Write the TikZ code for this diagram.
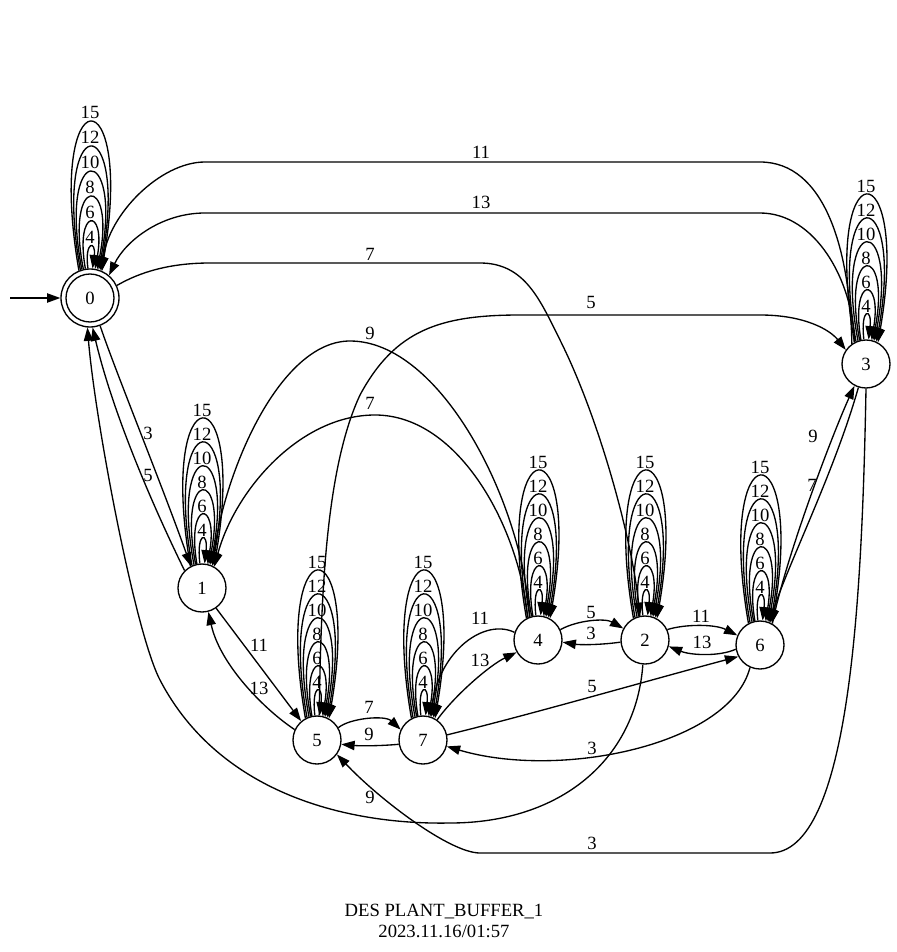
\documentclass[tikz,border=0pt]{standalone}
\usepackage{fontspec}
\setmainfont{Liberation Serif}
\usetikzlibrary{arrows.meta,calc}
\tikzset{
 st/.style={circle,draw,line width=1pt,minimum size=36pt,inner sep=0pt,font=\fontsize{14pt}{16pt}\selectfont},
 edge/.style={line width=1pt,-{Triangle[length=10pt,width=7pt]}},
 lbl/.style={inner sep=0pt,font=\fontsize{14pt}{16pt}\selectfont},
}
\newcommand\loopset[4]{%
  \foreach \la/\lw/\lh/\lt in {2.5/3/48/4,5/7/72/6,6.6/10.5/96/8,8.2/13.5/120/10,9.8/16/144/12,11.3/18.5/168/15}{
    \pgfmathsetmacro\lang{asin(\la/#2)}
    \pgfmathsetmacro\lyz{sqrt(#2*#2-\la*\la)}
    \pgfmathsetmacro\lH{\lh*#3}
    \pgfmathsetmacro\lhh{4/3*(\lH-\lyz)}
    \pgfmathsetmacro\lcc{(\lw-0.481*\la)/0.289-\la}
    \draw[edge] (#1.{90+\lang}) .. controls +(-\lcc,-\lhh) and +(\lcc,-\lhh) .. (#1.{90-\lang});
    \node[lbl] (#1-l\lt) at ($(#1)+(0,-\lH-#4)$) {\lt};
  }
}
\begin{document}
\begin{tikzpicture}[x=0.75pt,y=-0.75pt]
\fill[white] (0,0) rectangle (896,952);
\useasboundingbox (0,0) rectangle (896,952);

% states
\node[st,minimum size=43.5pt] (n0) at (90,298) {};
\node[st] (n0i) at (90,298) {0};
\node[st] (n1) at (202,588) {1};
\node[st] (n5) at (317,740) {5};
\node[st] (n7) at (423,740) {7};
\node[st] (n4) at (538,640) {4};
\node[st] (n2) at (645,640) {2};
\node[st] (n6) at (760,645) {6};
\node[st] (n3) at (866,364) {3};

% initial arrow
\coordinate (init) at (10,298);
\draw[edge] (init) -- (n0.west);

% self loops
\loopset{n0}{29}{1.04}{11}
\loopset{n1}{24}{1}{10}
\loopset{n5}{24}{1}{10}
\loopset{n7}{24}{1}{10}
\loopset{n4}{24}{1}{10}
\loopset{n2}{24}{1}{10}
\loopset{n6}{24}{1}{10}
\loopset{n3}{24}{1}{10}

% 3 -> 0 : 11
\draw[edge] (n3.125) .. controls (850,250) and (825,162) .. (760,162) -- (205,162)
  .. controls (160,162) and (108,215) .. (n0.66);
\node[lbl] (e11a) at (481,152) {11};
% 3 -> 0 : 13
\draw[edge] (n3.118) .. controls (853,280) and (815,213) .. (760,213) -- (205,213)
  .. controls (160,213) and (125,242) .. (n0.50);
\node[lbl] (e13a) at (481,202) {13};
% 0 -> 2 : 7
\draw[edge] (n0.25) .. controls (140,272) and (170,263) .. (210,263) -- (480,263)
  .. controls (525,263) and (540,300) .. (560,340)
  .. controls (600,420) and (632,540) .. (n2.102);
\node[lbl] (e7a) at (370,254) {7};
% 5 -> 3 : 5
\draw[edge] (n5.85) .. controls (321,600) and (325,470) .. (360,395)
  .. controls (395,330) and (440,315) .. (520,315) -- (760,315)
  .. controls (805,315) and (830,330) .. (n3.145);
\node[lbl] (e5a) at (591,302) {5};
% 4 -> 1 : 9
\draw[edge] (n4.110) .. controls (522,500) and (440,341) .. (350,341)
  .. controls (280,341) and (225,470) .. (n1.65);
\node[lbl] (e9a) at (370,333) {9};
% 4 -> 1 : 7
\draw[edge] (n4.115) .. controls (520,530) and (460,415) .. (375,415)
  .. controls (300,415) and (235,490) .. (n1.60);
\node[lbl] (e7b) at (370,403) {7};
% 0 -> 1 : 3
\draw[edge] (n0.-70) .. controls (115,370) and (160,480) .. (n1.117);
\node[lbl] (e3a) at (148,433) {3};
% 1 -> 0 : 5
\draw[edge] (n1.135) .. controls (150,500) and (112,410) .. (n0.-85);
\node[lbl] (e5b) at (148,475) {5};
% 1 -> 5 : 11
\draw[edge] (n1.-55) -- (n5.130);
\node[lbl] (e11b) at (259,645) {11};
% 5 -> 1 : 13
\draw[edge] (n5.155) .. controls (265,710) and (220,665) .. (n1.-75);
\node[lbl] (e13b) at (259,688) {13};
% 5 -> 7 : 7
\draw[edge] (n5.30) .. controls (350,718) and (385,715) .. (n7.155);
\node[lbl] (e7c) at (369,707) {7};
% 7 -> 5 : 9
\draw[edge] (n7.190) .. controls (380,746) and (360,746) .. (n5.-10);
\node[lbl] (e9b) at (369,734) {9};
% 7 -> 4 : 13
\draw[edge] (n7.55) .. controls (455,695) and (490,665) .. (n4.210);
\node[lbl] (e13c) at (480,660) {13};
% 4 -> 7 : 11
\draw[edge] (n4.162) .. controls (485,618) and (440,650) .. (n7.72);
\node[lbl] (e11c) at (480,618) {11};
% 4 -> 2 : 5
\draw[edge] (n4.25) .. controls (578,620) and (605,618) .. (n2.152);
\node[lbl] (e5c) at (591,612) {5};
% 2 -> 4 : 3
\draw[edge] (n2.185) .. controls (600,645) and (580,645) .. (n4.-5);
\node[lbl] (e3b) at (591,633) {3};
% 2 -> 6 : 11
\draw[edge] (n2.25) .. controls (685,624) and (715,624) .. (n6.157);
\node[lbl] (e11d) at (701,616) {11};
% 6 -> 2 : 13
\draw[edge] (n6.190) .. controls (718,657) and (690,655) .. (n2.-15);
\node[lbl] (e13d) at (702,642) {13};
% 7 -> 6 : 5
\draw[edge] (n7.12) .. controls (540,712) and (650,680) .. (n6.208);
\node[lbl] (e5d) at (592,686) {5};
% 6 -> 7 : 3
\draw[edge] (n6.-114) .. controls (730,745) and (560,780) .. (n7.-15);
\node[lbl] (e3c) at (592,748) {3};
% 2 -> 0 : 9
\draw[edge] (n2.-95) .. controls (636,760) and (560,823) .. (450,823)
  .. controls (350,825) and (220,795) .. (160,680)
  .. controls (135,632) and (95,420) .. (n0.-95);
\node[lbl] (e9c) at (370,797) {9};
% 3 -> 5 : 3
\draw[edge] (n3.-90) .. controls (862,600) and (850,853) .. (770,853) -- (480,853)
  .. controls (450,853) and (380,800) .. (n5.-36);
\node[lbl] (e3d) at (592,843) {3};
% 6 -> 3 : 9
\draw[edge] (n6.60) .. controls (785,560) and (830,440) .. (n3.-118);
\node[lbl] (e9d) at (813,436) {9};
% 3 -> 6 : 7
\draw[edge] (n3.-108) .. controls (835,470) and (790,560) .. (n6.68);
\node[lbl] (e7d) at (812,485) {7};

% title
\node[lbl] (title1) at (444,912) {DES PLANT\_BUFFER\_1};
\node[lbl] (title2) at (444,931) {2023.11.16/01:57};
\end{tikzpicture}
\end{document}
